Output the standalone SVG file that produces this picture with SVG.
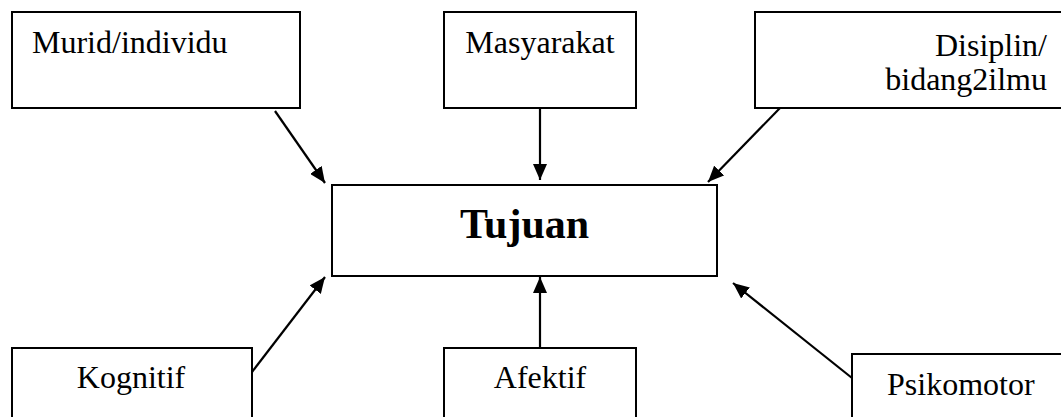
<svg xmlns="http://www.w3.org/2000/svg" width="1061" height="417" viewBox="0 0 1061 417" font-family="'Liberation Serif', 'Times New Roman', serif">
<style>
text{font-family:'Liberation Serif','Times New Roman',serif;font-size:32px;font-weight:normal;fill:#000}
.box{fill:#fff;stroke:#000;stroke-width:2}
.b{font-weight:bold;font-size:42px}
.c{stroke:#000;stroke-width:2.2;fill:none;marker-end:url(#ah)}
</style>
<defs>
<marker id="ah" viewBox="0 0 16 14" refX="16" refY="7" markerWidth="16" markerHeight="14" markerUnits="userSpaceOnUse" orient="auto">
<path d="M0,0 L16,7 L0,14 Z" fill="#000"/>
</marker>
</defs>
<rect width="1061" height="417" fill="#fff"/>
<g id="connectors">
<line class="c" x1="275" y1="111" x2="325" y2="183"/>
<line class="c" x1="540" y1="108" x2="540" y2="180"/>
<line class="c" x1="780" y1="108" x2="708" y2="182"/>
<line class="c" x1="252" y1="372" x2="325" y2="277"/>
<line class="c" x1="540" y1="348" x2="540" y2="277"/>
<line class="c" x1="852" y1="378" x2="733" y2="283"/>
</g>
<g id="tujuan">
<rect class="box" x="332" y="185" width="385" height="91"/>
<text class="b" x="524.5" y="238" text-anchor="middle">Tujuan</text>
</g>
<g id="murid">
<rect class="box" x="12" y="12" width="288" height="96"/>
<text x="32" y="53">Murid/individu</text>
</g>
<g id="masyarakat">
<rect class="box" x="444" y="12" width="192" height="96"/>
<text x="540" y="53" text-anchor="middle">Masyarakat</text>
</g>
<g id="disiplin">
<rect class="box" x="755" y="12" width="320" height="96"/>
<text x="1047" y="56" text-anchor="end">Disiplin/</text>
<text x="1047" y="90" text-anchor="end">bidang2ilmu</text>
</g>
<g id="kognitif">
<rect class="box" x="12" y="348" width="240" height="90"/>
<text x="131" y="388" text-anchor="middle">Kognitif</text>
</g>
<g id="afektif">
<rect class="box" x="444" y="348" width="192" height="90"/>
<text x="540" y="388" text-anchor="middle">Afektif</text>
</g>
<g id="psikomotor">
<rect class="box" x="852" y="354" width="230" height="90"/>
<text x="887" y="395">Psikomotor</text>
</g>
</svg>
